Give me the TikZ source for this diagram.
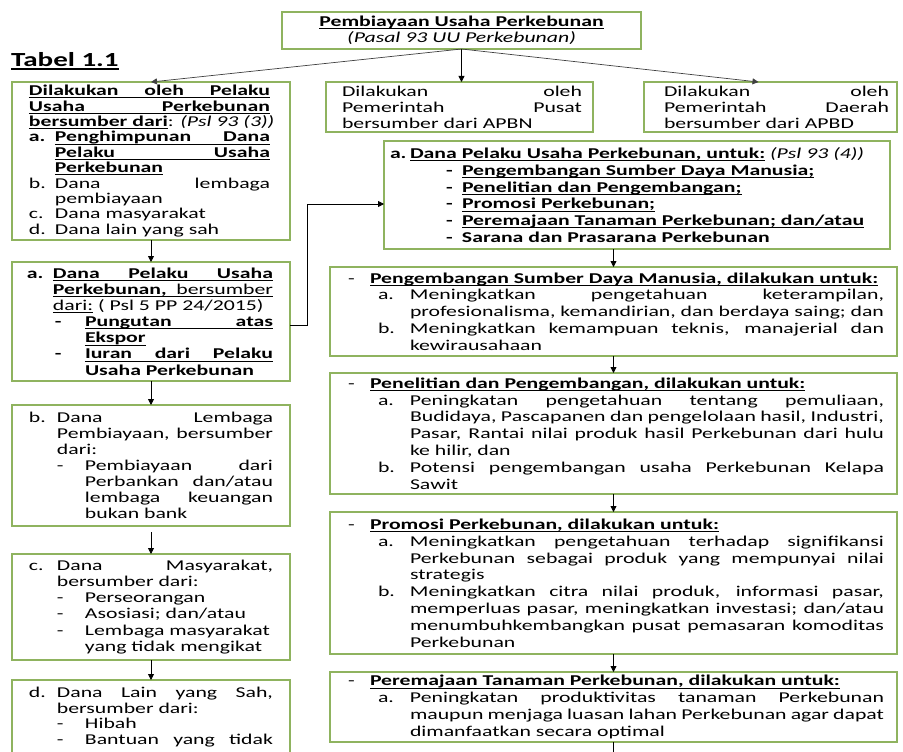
\documentclass[tikz,border=0pt]{standalone}
\usepackage{fontspec}
\setmainfont{Carlito}[FakeStretch=1.45]
\usetikzlibrary{arrows.meta}
\definecolor{bx}{HTML}{8FB35F}
\setlength\parskip{0pt}
\newcommand\uln[1]{\setbox0\hbox{#1}\rlap{\rule[-2.6pt]{\wd0}{0.9pt}}\box0\relax}
\newcommand\ulbox[2]{\rlap{\rule[-2.6pt]{#1}{0.9pt}}\makebox[#1][s]{#2}}
\newcommand\LJ[3]{\noindent\makebox[#1][l]{#2}\makebox[\dimexpr\linewidth-#1\relax][s]{#3}\par}
\newcommand\LL[3]{\noindent\makebox[#1][l]{#2}\mbox{#3}\par}
\newcommand\UJ[3]{\noindent\makebox[#1][l]{#2}\ulbox{\dimexpr\linewidth-#1\relax}{#3}\par}
\newcommand\BX[4]{\makebox[#1][l]{\hspace*{#2}\begin{minipage}{#3}#4\end{minipage}}}
\begin{document}
\begin{tikzpicture}[x=1pt,y=-1pt,
  box/.style={draw=bx, line width=1.4pt, anchor=north west, inner sep=0pt, outer sep=0pt, font=\fontsize{15}{16.8}\selectfont},
  lbox/.style={box, font=\fontsize{15}{16.1}\selectfont},
  arr/.style={draw=black, line width=0.8pt, -{Triangle[length=6pt,width=6pt]}},
  arrT/.style={draw=black!75, line width=0.7pt, -{Triangle[length=6pt,width=6pt]}},
  plain/.style={draw=black, line width=0.8pt}]
\useasboundingbox (0,0) rectangle (903,752);
\clip (0,0) rectangle (903,752);
\fill[white] (0,0) rectangle (903,752);

% title
\node[box, minimum width=359, minimum height=37, align=center, font=\fontsize{15}{16}\selectfont] (title) at (282,12)
  {\uln{\textbf{Pembiayaan Usaha Perkebunan}}\\\textit{(Pasal 93 UU Perkebunan)}};
\node[anchor=west, inner sep=0pt, font=\fontsize{20}{21}\selectfont] (tbl) at (11,61)
  {\setbox0\hbox{\textbf{Tabel 1.1}}\rlap{\rule[-3pt]{\wd0}{1.2pt}}\box0\relax};

% left column
\node[lbox, minimum width=278, minimum height=158, font=\fontsize{15}{15.4}\selectfont] (b1) at (12,82) {\BX{278pt}{17pt}{241pt}{%
  \UJ{0pt}{}{\textbf{Dilakukan oleh Pelaku}}
  \UJ{0pt}{}{\textbf{Usaha Perkebunan}}
  \LL{0pt}{}{\uln{\textbf{bersumber dari}}: \textit{(Psl 93 (3))}}
  \UJ{26pt}{\textbf{a.}}{\textbf{Penghimpunan Dana}}
  \UJ{26pt}{}{\textbf{Pelaku Usaha}}
  \LL{26pt}{}{\uln{\textbf{Perkebunan}}}
  \LJ{26pt}{b.}{Dana lembaga}
  \LL{26pt}{}{pembiayaan}
  \LL{26pt}{c.}{Dana masyarakat}
  \LL{26pt}{d.}{Dana lain yang sah}}};

\node[lbox, minimum width=278, minimum height=119] (b2) at (12,262) {\BX{278pt}{15pt}{246pt}{%
  \UJ{26pt}{\textbf{a.}}{\textbf{Dana Pelaku Usaha}}
  \UJ{26pt}{}{\textbf{Perkebunan,} bersumber}
  \LL{26pt}{}{\uln{dari:} ( Psl 5 PP 24/2015)}
  \UJ{58pt}{\hspace*{28pt}\textbf{-}}{\textbf{Pungutan atas}}
  \LL{58pt}{}{\uln{\textbf{Ekspor}}}
  \UJ{58pt}{\hspace*{28pt}\textbf{-}}{\textbf{Iuran dari Pelaku}}
  \LL{58pt}{}{\textbf{Usaha Perkebunan}}}};

\node[lbox, minimum width=278, minimum height=121] (b3) at (12,405) {\BX{278pt}{17pt}{244pt}{%
  \LJ{28pt}{b.}{Dana Lembaga}
  \LJ{28pt}{}{Pembiayaan, bersumber}
  \LL{28pt}{}{dari:}
  \LJ{56pt}{\hspace*{28pt}-}{Pembiayaan dari}
  \LJ{56pt}{}{Perbankan dan/atau}
  \LJ{56pt}{}{lembaga keuangan}
  \LL{56pt}{}{bukan bank}}};

\node[lbox, minimum width=278, minimum height=106] (b4) at (12,554) {\BX{278pt}{17pt}{244pt}{%
  \LJ{28pt}{c.}{Dana Masyarakat,}
  \LL{28pt}{}{bersumber dari:}
  \LL{56pt}{\hspace*{28pt}-}{Perseorangan}
  \LL{56pt}{\hspace*{28pt}-}{Asosiasi; dan/atau}
  \LL{56pt}{\hspace*{28pt}-}{Lembaga masyarakat}
  \LL{56pt}{}{yang tidak mengikat}}};

\node[lbox, minimum width=278, minimum height=74, font=\fontsize{15}{15.6}\selectfont] (b5) at (12,680) {\BX{278pt}{17pt}{244pt}{%
  \LJ{28pt}{d.}{Dana Lain yang Sah,}
  \LL{28pt}{}{bersumber dari:}
  \LL{56pt}{\hspace*{28pt}-}{Hibah}
  \LJ{56pt}{\hspace*{28pt}-}{Bantuan yang tidak}}};

% top middle and right
\node[box, minimum width=267, minimum height=50, font=\fontsize{15}{16}\selectfont] (mid) at (326,82) {\BX{267pt}{16pt}{240pt}{%
  \LJ{0pt}{}{Dilakukan oleh}
  \LJ{0pt}{}{Pemerintah Pusat}
  \LL{0pt}{}{bersumber dari APBN}}};
\node[box, minimum width=253, minimum height=50, font=\fontsize{15}{16}\selectfont] (rt) at (644,82) {\BX{253pt}{20pt}{225pt}{%
  \LJ{0pt}{}{Dilakukan oleh}
  \LJ{0pt}{}{Pemerintah Daerah}
  \LL{0pt}{}{bersumber dari APBD}}};

% right column
\node[box, minimum width=506, minimum height=108] (ra) at (384,141) {\BX{506pt}{6pt}{488pt}{%
  \LL{20pt}{\textbf{a.}}{\uln{\textbf{Dana Pelaku Usaha Perkebunan, untuk:}} \textit{(Psl 93 (4))}}
  \LL{72pt}{\hspace*{56pt}\textbf{-}}{\uln{\textbf{Pengembangan Sumber Daya Manusia;}}}
  \LL{72pt}{\hspace*{56pt}\textbf{-}}{\uln{\textbf{Penelitian dan Pengembangan;}}}
  \LL{72pt}{\hspace*{56pt}\textbf{-}}{\uln{\textbf{Promosi Perkebunan;}}}
  \LL{72pt}{\hspace*{56pt}\textbf{-}}{\uln{\textbf{Peremajaan Tanaman Perkebunan; dan/atau}}}
  \LL{72pt}{\hspace*{56pt}\textbf{-}}{\textbf{Sarana dan Prasarana Perkebunan}}}};

\node[box, minimum width=567, minimum height=89] (r1) at (330,267) {\BX{567pt}{18pt}{536pt}{%
  \LL{22pt}{-}{\uln{\textbf{Pengembangan Sumber Daya Manusia, dilakukan untuk:}}}
  \LJ{62pt}{\hspace*{30pt}a.}{Meningkatkan pengetahuan keterampilan,}
  \LJ{62pt}{}{profesionalisma, kemandirian, dan berdaya saing; dan}
  \LJ{62pt}{\hspace*{30pt}b.}{Meningkatkan kemampuan teknis, manajerial dan}
  \LL{62pt}{}{kewirausahaan}}};

\node[box, minimum width=567, minimum height=121] (r2) at (330,373) {\BX{567pt}{18pt}{536pt}{%
  \LL{22pt}{-}{\uln{\textbf{Penelitian dan Pengembangan, dilakukan untuk:}}}
  \LJ{62pt}{\hspace*{30pt}a.}{Peningkatan pengetahuan tentang pemuliaan,}
  \LJ{62pt}{}{Budidaya, Pascapanen dan pengelolaan hasil, Industri,}
  \LJ{62pt}{}{Pasar, Rantai nilai produk hasil Perkebunan dari hulu}
  \LL{62pt}{}{ke hilir, dan}
  \LJ{62pt}{\hspace*{30pt}b.}{Potensi pengembangan usaha Perkebunan Kelapa}
  \LL{62pt}{}{Sawit}}};

\node[box, minimum width=567, minimum height=142] (r3) at (330,512) {\BX{567pt}{18pt}{536pt}{%
  \LL{22pt}{-}{\uln{\textbf{Promosi Perkebunan, dilakukan untuk:}}}
  \LJ{62pt}{\hspace*{30pt}a.}{Meningkatkan pengetahuan terhadap signifikansi}
  \LJ{62pt}{}{Perkebunan sebagai produk yang mempunyai nilai}
  \LL{62pt}{}{strategis}
  \LJ{62pt}{\hspace*{30pt}b.}{Meningkatkan citra nilai produk, informasi pasar,}
  \LJ{62pt}{}{memperluas pasar, meningkatkan investasi; dan/atau}
  \LJ{62pt}{}{menumbuhkembangkan pusat pemasaran komoditas}
  \LL{62pt}{}{Perkebunan}}};

\node[box, minimum width=567, minimum height=70] (r4) at (330,672) {\BX{567pt}{18pt}{536pt}{%
  \LL{22pt}{-}{\uln{\textbf{Peremajaan Tanaman Perkebunan, dilakukan untuk:}}}
  \LJ{62pt}{\hspace*{30pt}a.}{Peningkatan produktivitas tanaman Perkebunan}
  \LJ{62pt}{}{maupun menjaga luasan lahan Perkebunan agar dapat}
  \LL{62pt}{}{dimanfaatkan secara optimal}}};

% connectors
\draw[arrT] (title.south) -- (b1.north);
\draw[arr] (title.south) -- (title.south |- mid.north);
\draw[arrT] (title.south) -- ([xshift=-12pt]rt.north);
\draw[arr] (b1.south) -- (b2.north);
\draw[arr] (b2.south) -- (b3.north);
\draw[arr] ([yshift=-6pt]b3.south) -- (b4.north);
\draw[arr] (b4.south) -- (b5.north);
\coordinate (c1) at (307,325);
\coordinate (c2) at (307,204);
\draw[arr] (b2.east |- c1) -- (c1) -- (c2) -- (ra.west |- c2);
\draw[arr] (r1.north |- ra.south) -- (r1.north);
\draw[arr] (r1.south) -- (r2.north);
\draw[arr] (r2.south) -- (r3.north);
\draw[arr] (r3.south) -- (r4.north);
\coordinate (c3) at (613,770);
\draw[plain] (r4.south) -- (r4.south |- c3);
\end{tikzpicture}
\end{document}
